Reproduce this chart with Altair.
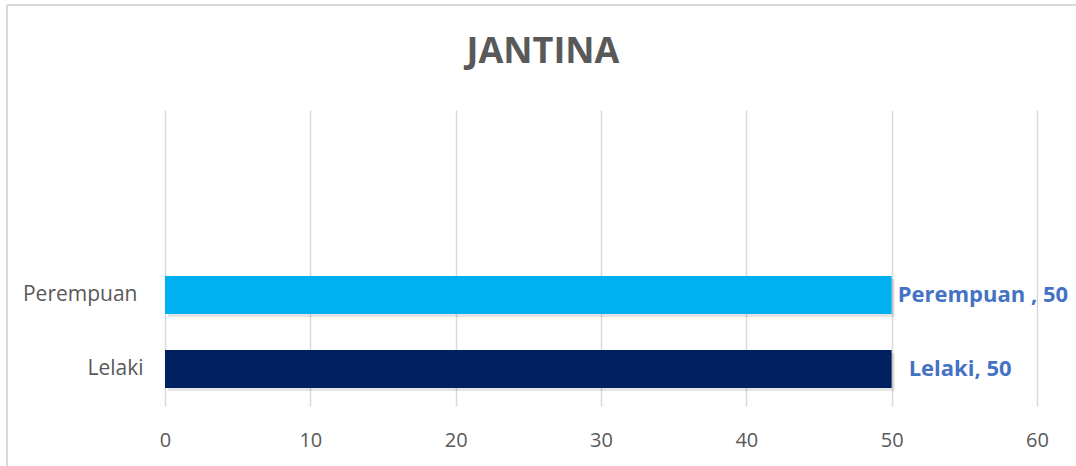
import altair as alt
import pandas as pd

categories = ["Lelaki", "Perempuan "]
values = [50, 50]
colors = ["#002060", "#00B0F0"]
domain_order = ["   ", "  ", "Perempuan ", "Lelaki"]
title_text = ["JANTINA"]

df = pd.DataFrame({"cat": categories, "val": values, "col": colors})
df["lab"] = df["cat"] + ", " + df["val"].astype(str)

FONT = "Open Sans"

y_enc = alt.Y("cat:N", scale=alt.Scale(domain=domain_order, paddingInner=0.486, paddingOuter=0.243),
              axis=alt.Axis(title=None, domain=False, ticks=False, labelFont=FONT, labelFontSize=21,
                            labelColor="#595959", grid=False,
                            labelPadding={"condition": {"test": "datum.value == 'Perempuan '", "value": 28},
                                          "value": 22}))
x_enc = alt.X("val:Q", scale=alt.Scale(domain=[0, 60], nice=False),
              axis=alt.Axis(title=None, values=[0, 10, 20, 30, 40, 50, 60], domain=False, ticks=False,
                            labelFont=FONT, labelFontSize=20, labelColor="#595959", labelPadding=24,
                            labelFlush=False,
                            grid=True, gridColor="#d9d9d9", gridWidth=1.5))

base = alt.Chart(df)

shadow = base.mark_bar(color="#000000", opacity=0.10, xOffset=3, yOffset=3).encode(x=x_enc, y=y_enc)
bars = base.mark_bar().encode(x=x_enc, y=y_enc, color=alt.Color("col:N", scale=None))

lab_l = base.transform_filter(alt.datum.cat == "Lelaki").mark_text(
    align="left", dx=17, font=FONT, fontSize=22, fontWeight="bold", color="#4472C4"
).encode(x=x_enc, y=y_enc, text="lab:N")
lab_p = base.transform_filter(alt.datum.cat == "Perempuan ").mark_text(
    align="left", dx=6, font=FONT, fontSize=22, fontWeight="bold", color="#4472C4"
).encode(x=x_enc, y=y_enc, text="lab:N")

title = alt.Chart(pd.DataFrame({"t": title_text})).mark_text(
    font=FONT, fontSize=36, fontWeight="bold", color="#595959", align="center", baseline="middle", clip=False
).encode(x=alt.value(378), y=alt.value(-58), text="t:N")

border_top = base.mark_rule(color="#d9d9d9", strokeWidth=2, clip=False).encode(
    x=alt.value(-158), x2=alt.value(920), y=alt.value(-105))
border_left = base.mark_rule(color="#d9d9d9", strokeWidth=2, clip=False).encode(
    x=alt.value(-158), y=alt.value(-105), y2=alt.value(360))

chart = alt.layer(border_top, border_left, shadow, bars, lab_l, lab_p, title).properties(
    width=872, height=296,
    background="white",
    autosize=alt.AutoSizeParams(type="none"),
    padding={"left": 165, "top": 110, "right": 39, "bottom": 60},
).configure_view(strokeWidth=0)

chart.save("out.html", embed_options={"renderer": "svg", "actions": False})
